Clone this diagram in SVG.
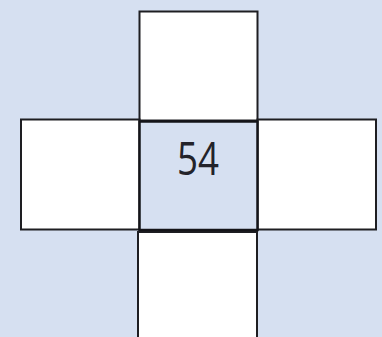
<svg xmlns="http://www.w3.org/2000/svg" width="382" height="337" viewBox="0 0 382 337">
<style>
.w{fill:#ffffff;stroke:#1e1e22;stroke-width:2}
.c{fill:#d6e0f1;stroke:#141418;stroke-width:2.5}
.t{font-family:"Open Sans","Liberation Sans",sans-serif;font-weight:400;font-size:46px;fill:#23232a;text-anchor:middle}
</style>
<rect x="0" y="0" width="382" height="337" fill="#d6e0f1"/>
<g id="top"><rect class="w" x="139.5" y="11.5" width="118" height="109"/></g>
<g id="left"><rect class="w" x="21" y="119.5" width="118.5" height="110"/></g>
<g id="right"><rect class="w" x="257.5" y="119.5" width="118.5" height="110"/></g>
<g id="bottom"><rect class="w" x="138" y="232" width="119" height="110"/></g>
<g id="center"><rect class="c" x="139.5" y="121.5" width="118" height="108.5"/>
<text class="t" x="198" y="175" textLength="42" lengthAdjust="spacingAndGlyphs">54</text></g>
<g id="connectors"></g>
</svg>
